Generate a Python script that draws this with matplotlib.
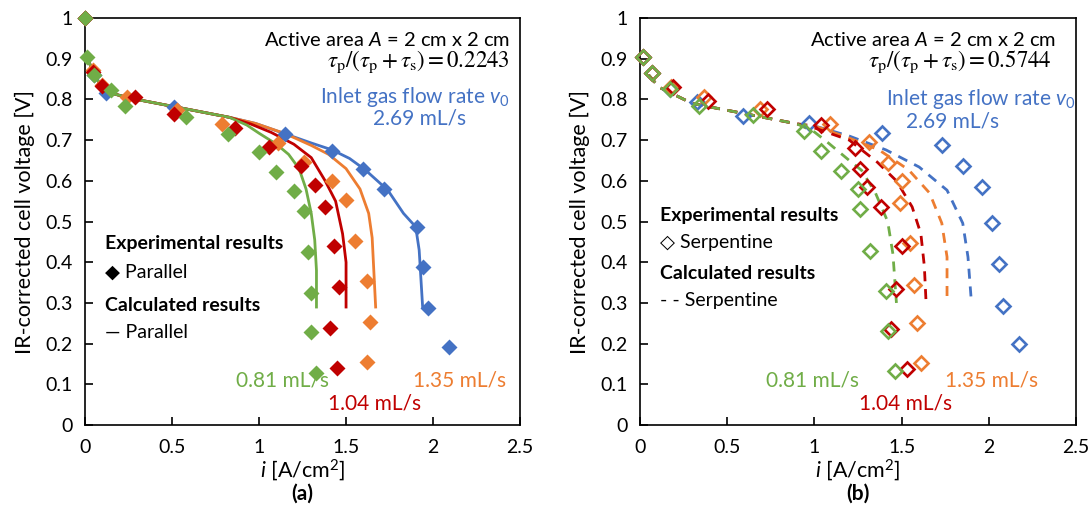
import numpy as np
import matplotlib.pyplot as plt
from matplotlib.ticker import FuncFormatter

plt.rcParams['font.family'] = ['Lato', 'DejaVu Sans']
plt.rcParams['mathtext.fontset'] = 'custom'
plt.rcParams['mathtext.rm'] = 'Lato'
plt.rcParams['mathtext.it'] = 'Lato:italic'

BLUE, ORANGE, RED, GREEN = '#4472C4', '#ED7D31', '#C00000', '#70AD47'

# (a) parallel - experiment
par_blue_x = [0, 0.05, 0.12, 0.51, 1.15, 1.42, 1.60, 1.72, 1.91, 1.94, 1.97, 2.09]
par_blue_y = [1.0, 0.86, 0.816, 0.781, 0.715, 0.673, 0.63, 0.58, 0.487, 0.388, 0.288, 0.192]
par_orange_x = [0, 0.046, 0.10, 0.24, 0.53, 0.79, 1.11, 1.26, 1.42, 1.50, 1.55, 1.62, 1.64, 1.62]
par_orange_y = [1.0, 0.872, 0.835, 0.806, 0.774, 0.74, 0.693, 0.646, 0.60, 0.553, 0.452, 0.354, 0.253, 0.155]
par_red_x = [0, 0.046, 0.10, 0.29, 0.51, 0.86, 1.06, 1.24, 1.32, 1.38, 1.43, 1.46, 1.41, 1.45]
par_red_y = [1.0, 0.867, 0.833, 0.806, 0.764, 0.730, 0.683, 0.636, 0.590, 0.536, 0.440, 0.339, 0.238, 0.140]
par_green_x = [0, 0.01, 0.05, 0.15, 0.23, 0.58, 0.82, 1.00, 1.10, 1.20, 1.26, 1.28, 1.30, 1.30, 1.33]
par_green_y = [1.0, 0.904, 0.86, 0.823, 0.784, 0.757, 0.715, 0.671, 0.622, 0.575, 0.526, 0.425, 0.324, 0.229, 0.128]

# (a) parallel - calculated
trunk_x = [0.01, 0.05, 0.11, 0.26, 0.54, 0.83]
trunk_y = [0.905, 0.865, 0.82, 0.803, 0.78, 0.756]
calc_par_green_x = trunk_x + [0.93, 1.0, 1.10, 1.17, 1.23, 1.27, 1.30, 1.32, 1.33, 1.33]
calc_par_green_y = trunk_y + [0.737, 0.717, 0.69, 0.665, 0.63, 0.58, 0.52, 0.455, 0.38, 0.29]
calc_par_red_x = trunk_x + [0.95, 1.07, 1.20, 1.30, 1.38, 1.44, 1.48, 1.50, 1.50]
calc_par_red_y = trunk_y + [0.74, 0.719, 0.69, 0.657, 0.60, 0.55, 0.47, 0.40, 0.29]
calc_par_orange_x = trunk_x + [0.98, 1.15, 1.30, 1.40, 1.50, 1.58, 1.63, 1.65, 1.67]
calc_par_orange_y = trunk_y + [0.741, 0.716, 0.687, 0.665, 0.63, 0.58, 0.52, 0.46, 0.29]
calc_par_blue_x = trunk_x + [0.98, 1.12, 1.30, 1.42, 1.52, 1.61, 1.74, 1.83, 1.90, 1.92, 1.94]
calc_par_blue_y = trunk_y + [0.741, 0.72, 0.693, 0.676, 0.655, 0.627, 0.577, 0.52, 0.487, 0.43, 0.29]

# (b) serpentine - experiment
ser_blue_x = [0.017, 0.07, 0.17, 0.33, 0.59, 0.97, 1.39, 1.73, 1.85, 1.96, 2.02, 2.06, 2.08, 2.17]
ser_blue_y = [0.904, 0.865, 0.826, 0.794, 0.759, 0.742, 0.717, 0.688, 0.636, 0.585, 0.496, 0.396, 0.292, 0.2]
ser_orange_x = [0.017, 0.07, 0.18, 0.37, 0.69, 1.09, 1.31, 1.42, 1.50, 1.49, 1.55, 1.57, 1.59, 1.61]
ser_orange_y = [0.904, 0.865, 0.83, 0.806, 0.776, 0.74, 0.695, 0.644, 0.60, 0.546, 0.447, 0.344, 0.25, 0.152]
ser_red_x = [0.017, 0.07, 0.19, 0.39, 0.73, 1.04, 1.23, 1.26, 1.30, 1.38, 1.50, 1.47, 1.44, 1.53]
ser_red_y = [0.904, 0.865, 0.83, 0.796, 0.776, 0.737, 0.68, 0.629, 0.585, 0.536, 0.44, 0.334, 0.235, 0.138]
ser_green_x = [0.017, 0.07, 0.17, 0.34, 0.65, 0.94, 1.04, 1.15, 1.25, 1.26, 1.32, 1.41, 1.42, 1.46]
ser_green_y = [0.904, 0.865, 0.826, 0.784, 0.762, 0.722, 0.673, 0.624, 0.58, 0.531, 0.428, 0.329, 0.231, 0.133]

# (b) serpentine - calculated
strunk_x = [0.05, 0.11, 0.30, 0.60, 0.90]
strunk_y = [0.86, 0.83, 0.79, 0.765, 0.74]
calc_ser_green_x = strunk_x + [1.0, 1.08, 1.20, 1.27, 1.35, 1.42, 1.45, 1.47]
calc_ser_green_y = strunk_y + [0.72, 0.693, 0.65, 0.626, 0.57, 0.50, 0.42, 0.30]
calc_ser_red_x = strunk_x + [1.0, 1.20, 1.36, 1.47, 1.56, 1.61, 1.63, 1.64]
calc_ser_red_y = strunk_y + [0.73, 0.70, 0.646, 0.60, 0.536, 0.47, 0.39, 0.30]
calc_ser_orange_x = strunk_x + [1.0, 1.20, 1.37, 1.54, 1.66, 1.73, 1.76, 1.76]
calc_ser_orange_y = strunk_y + [0.735, 0.705, 0.676, 0.627, 0.57, 0.496, 0.413, 0.30]
calc_ser_blue_x = strunk_x + [1.0, 1.20, 1.41, 1.60, 1.76, 1.85, 1.88, 1.90]
calc_ser_blue_y = strunk_y + [0.735, 0.71, 0.676, 0.634, 0.577, 0.496, 0.413, 0.30]

fig = plt.figure(figsize=(10.92, 5.30), dpi=100)
ax1 = fig.add_axes([0.0778, 0.198, 0.3985, 0.768])
ax2 = fig.add_axes([0.586, 0.198, 0.3995, 0.768])

fmt = FuncFormatter(lambda v, p: '{:g}'.format(round(v, 2)))
for ax, tag in [(ax1, '(a)'), (ax2, '(b)')]:
    ax.set_xlim(0, 2.5)
    ax.set_ylim(0, 1)
    ax.set_xticks(np.arange(0, 2.51, 0.5))
    ax.set_yticks(np.arange(0, 1.01, 0.1))
    ax.xaxis.set_major_formatter(fmt)
    ax.yaxis.set_major_formatter(fmt)
    ax.tick_params(direction='in', length=6, width=1.2, labelsize=14, pad=10)
    ax.tick_params(axis='y', pad=9)
    for s in ax.spines.values():
        s.set_linewidth(1.2)
    ax.set_xlabel('$i$ [A/cm$^2$]', fontsize=15.5, labelpad=1)
    ax.set_ylabel('IR-corrected cell voltage [V]', fontsize=15.5, labelpad=7)
    ax.text(0.5, -0.145, tag, transform=ax.transAxes, ha='center', va='top',
            fontsize=15, fontweight='bold')

# (a)
lw = 2.0
for x, y, c in [(calc_par_blue_x, calc_par_blue_y, BLUE),
                (calc_par_orange_x, calc_par_orange_y, ORANGE),
                (calc_par_red_x, calc_par_red_y, RED),
                (calc_par_green_x, calc_par_green_y, GREEN)]:
    ax1.plot(x, y, '-', color=c, lw=lw, zorder=3)
for x, y, c in [(par_blue_x, par_blue_y, BLUE),
                (par_orange_x, par_orange_y, ORANGE),
                (par_red_x, par_red_y, RED),
                (par_green_x, par_green_y, GREEN)]:
    ax1.plot(x, y, 'D', color=c, ms=8, mec='none', ls='none', zorder=4, clip_on=False)

# (b)
for x, y, c in [(calc_ser_blue_x, calc_ser_blue_y, BLUE),
                (calc_ser_orange_x, calc_ser_orange_y, ORANGE),
                (calc_ser_red_x, calc_ser_red_y, RED),
                (calc_ser_green_x, calc_ser_green_y, GREEN)]:
    ax2.plot(x, y, '--', color=c, lw=lw, dashes=(3.6, 2.8), zorder=3)
for x, y, c in [(ser_blue_x, ser_blue_y, BLUE),
                (ser_orange_x, ser_orange_y, ORANGE),
                (ser_red_x, ser_red_y, RED),
                (ser_green_x, ser_green_y, GREEN)]:
    ax2.plot(x, y, 'D', mec=c, mfc='none', mew=1.9, ms=6.8, ls='none', zorder=4, clip_on=False)

# annotations: (ax, ratio, exp label, calc label, legend y's, area x, tau x, inlet x/y, rate x/y)
for ax, ratio, exp_lbl, calc_lbl, ly, ax_a, ax_t, inl, rate in [
        (ax1, '0.2243', '\u25C6 Parallel', '\u2014 Parallel', (0.445, 0.375, 0.293, 0.228),
         0.977, 0.977, (0.977, 0.806), (0.77, 0.754)),
        (ax2, '0.5744', '\u25C7 Serpentine', '- - Serpentine', (0.515, 0.448, 0.372, 0.305),
         0.955, 0.945, (0.998, 0.80), (0.716, 0.747))]:
    ax.text(ax_a, 0.945, 'Active area $A$ = 2 cm x 2 cm', transform=ax.transAxes,
            ha='right', va='center', fontsize=14.5)
    ax.text(ax_t, 0.893, r'$\tau_\mathrm{p}/(\tau_\mathrm{p}+\tau_\mathrm{s})=' + ratio + '$',
            transform=ax.transAxes, ha='right', va='center', fontsize=16.5,
            math_fontfamily='stix')
    ax.text(inl[0], inl[1], 'Inlet gas flow rate $v_0$', transform=ax.transAxes,
            ha='right', va='center', fontsize=15, color=BLUE)
    ax.text(rate[0], rate[1], '2.69 mL/s', transform=ax.transAxes,
            ha='center', va='center', fontsize=15, color=BLUE)
    ax.text(0.045, ly[0], 'Experimental results', transform=ax.transAxes,
            ha='left', va='center', fontsize=14, fontweight='bold')
    ax.text(0.045, ly[1], exp_lbl, transform=ax.transAxes,
            ha='left', va='center', fontsize=14)
    ax.text(0.045, ly[2], 'Calculated results', transform=ax.transAxes,
            ha='left', va='center', fontsize=14, fontweight='bold')
    ax.text(0.045, ly[3], calc_lbl, transform=ax.transAxes,
            ha='left', va='center', fontsize=14)

ax1.text(0.455, 0.11, '0.81 mL/s', transform=ax1.transAxes, ha='center', va='center',
         fontsize=15, color=GREEN)
ax1.text(0.665, 0.053, '1.04 mL/s', transform=ax1.transAxes, ha='center', va='center',
         fontsize=15, color=RED)
ax1.text(0.86, 0.11, '1.35 mL/s', transform=ax1.transAxes, ha='center', va='center',
         fontsize=15, color=ORANGE)
ax2.text(0.395, 0.11, '0.81 mL/s', transform=ax2.transAxes, ha='center', va='center',
         fontsize=15, color=GREEN)
ax2.text(0.61, 0.053, '1.04 mL/s', transform=ax2.transAxes, ha='center', va='center',
         fontsize=15, color=RED)
ax2.text(0.805, 0.11, '1.35 mL/s', transform=ax2.transAxes, ha='center', va='center',
         fontsize=15, color=ORANGE)

fig.savefig('out.png', dpi=100)
